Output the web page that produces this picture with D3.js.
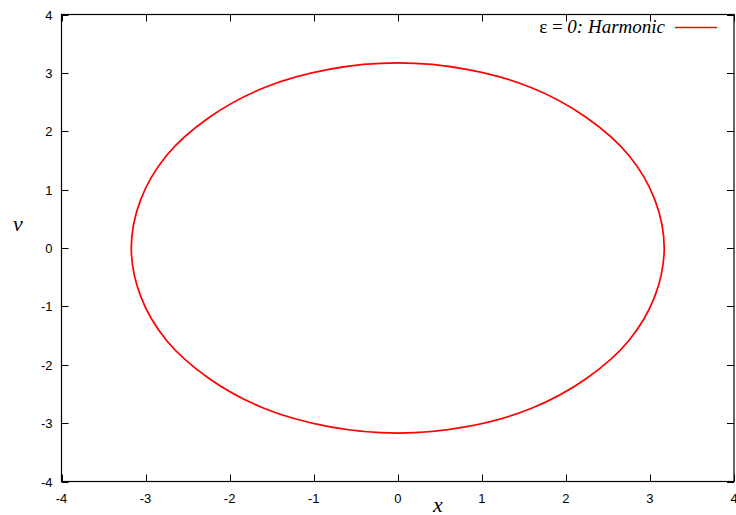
<!DOCTYPE html>
<html>
<head>
<meta charset="utf-8">
<script src="https://cdn.jsdelivr.net/npm/d3@7"></script>
<style>
  html, body { margin: 0; padding: 0; background: #fff; }
  svg { display: block; }
  .tick-label { font-family: "Liberation Sans", Arial, sans-serif; font-size: 13px; fill: #000; }
  .serif { font-family: "Liberation Serif", "Times New Roman", serif; fill: #000; }
</style>
</head>
<body>
<div id="chart"></div>
<script>
// phase-space orbit (x, v)
const orbitX = [3.17, 3.06, 2.75, 2.24, 1.585, 0.82, 0, -0.82, -1.585, -2.24, -2.75, -3.06,
                -3.17, -3.06, -2.75, -2.24, -1.585, -0.82, 0, 0.82, 1.585, 2.24, 2.75, 3.06];
const orbitV = [0, 0.82, 1.585, 2.24, 2.75, 3.06, 3.17, 3.06, 2.75, 2.24, 1.585, 0.82,
                0, -0.82, -1.585, -2.24, -2.75, -3.06, -3.17, -3.06, -2.75, -2.24, -1.585, -0.82];
const xTicks = [-4, -3, -2, -1, 0, 1, 2, 3, 4];
const yTicks = [-4, -3, -2, -1, 0, 1, 2, 3, 4];

const W = 736, H = 515;
const margin = { left: 61.5, right: 2, top: 14.5, bottom: 33.5 };

const svg = d3.select("#chart").append("svg")
  .attr("width", W).attr("height", H);

const x = d3.scaleLinear().domain([-4, 4]).range([margin.left, W - margin.right]);
const y = d3.scaleLinear().domain([-4, 4]).range([H - margin.bottom, margin.top]);

const tickLen = 7;
const gAxes = svg.append("g").attr("stroke", "#000").attr("stroke-width", 1);

// ticks mirrored on all four sides (gnuplot style)
xTicks.forEach(t => {
  const px = Math.round(x(t)) + 0.5;
  gAxes.append("line").attr("x1", px).attr("x2", px).attr("y1", y(-4)).attr("y2", y(-4) - tickLen);
  gAxes.append("line").attr("x1", px).attr("x2", px).attr("y1", y(4)).attr("y2", y(4) + tickLen);
});
yTicks.forEach(t => {
  const py = Math.round(y(t)) + 0.5;
  gAxes.append("line").attr("y1", py).attr("y2", py).attr("x1", x(-4)).attr("x2", x(-4) + tickLen);
  gAxes.append("line").attr("y1", py).attr("y2", py).attr("x1", x(4)).attr("x2", x(4) - tickLen);
});

svg.selectAll("text.xt").data(xTicks).join("text")
  .attr("class", "tick-label xt")
  .attr("x", d => x(d)).attr("y", y(-4) + 21)
  .attr("text-anchor", "middle")
  .text(d => d);

svg.selectAll("text.yt").data(yTicks).join("text")
  .attr("class", "tick-label yt")
  .attr("x", x(-4) - 9).attr("y", d => y(d) + 5)
  .attr("text-anchor", "end")
  .text(d => d);

// orbit
const pts = orbitX.map((d, i) => [d, orbitV[i]]);
svg.append("path")
  .datum(pts)
  .attr("fill", "none")
  .attr("stroke", "#ff0000")
  .attr("stroke-width", 1.7)
  .attr("d", d3.line().x(d => x(d[0])).y(d => y(d[1])).curve(d3.curveCatmullRomClosed.alpha(0.5)));

// frame
svg.append("rect")
  .attr("x", x(-4)).attr("y", y(4))
  .attr("width", x(4) - x(-4)).attr("height", y(-4) - y(4))
  .attr("fill", "none").attr("stroke", "#000").attr("stroke-width", 1.2);

// legend
const leg = svg.append("text").attr("class", "serif")
  .attr("x", 665).attr("y", 33).attr("text-anchor", "end")
  .style("font-size", "19px");
leg.append("tspan").text("ε = ");
leg.append("tspan").attr("font-style", "italic").text("0: Harmonic");
svg.append("line")
  .attr("x1", 675).attr("x2", 717).attr("y1", 27.5).attr("y2", 27.5)
  .attr("stroke", "#ff0000").attr("stroke-width", 1.5);

// axis titles
svg.append("text").attr("class", "serif")
  .attr("x", 438).attr("y", 512).attr("text-anchor", "middle")
  .style("font-size", "22px").style("font-style", "italic").text("x");
svg.append("text").attr("class", "serif")
  .attr("x", 18).attr("y", 231).attr("text-anchor", "middle")
  .style("font-size", "22px").style("font-style", "italic").text("v");
</script>
</body>
</html>
